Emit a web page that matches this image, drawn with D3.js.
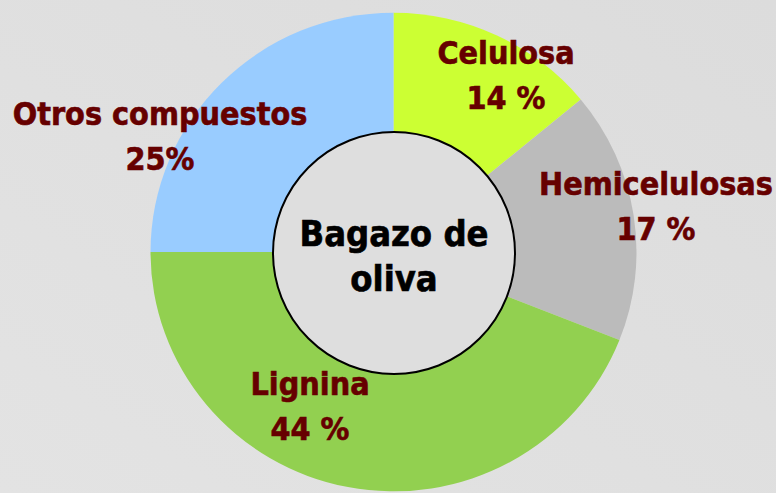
<!DOCTYPE html>
<html>
<head>
<meta charset="utf-8">
<style>
  html, body { margin: 0; padding: 0; overflow: hidden; }
  svg { display: block; }
  .lbl { font-family: "DejaVu Sans Condensed", "DejaVu Sans", sans-serif; font-stretch: condensed; font-weight: bold; }
</style>
</head>
<body>
<div id="chart"></div>
<script src="https://d3js.org/d3.v7.min.js"></script>
<script>
    const categories = ['Celulosa', 'Hemicelulosas', 'Lignina', 'Otros compuestos'];
    const values = [14, 17, 44, 25];
    const pctLabels = ['14 %', '17 %', '44 %', '25%'];
    const colors = ['#CCFF33', '#BBBBBB', '#92D050', '#99CCFF'];
    const centerTitle = ['Bagazo de', 'oliva'];

    const W = 776, H = 493;
    const cx = 394, cy = 252;

    const svg = d3.select('#chart')
        .append('svg')
        .attr('width', W)
        .attr('height', H);

    const defs = svg.append('defs');
    const grad = defs.append('linearGradient')
        .attr('id', 'bg')
        .attr('x1', '0%').attr('y1', '100%')
        .attr('x2', '100%').attr('y2', '0%');
    grad.append('stop').attr('offset', '0%').attr('stop-color', '#e3e3e3');
    grad.append('stop').attr('offset', '100%').attr('stop-color', '#dcdcdc');

    svg.append('rect')
        .attr('width', W)
        .attr('height', H)
        .attr('fill', 'url(#bg)');

    const data = categories.map((c, i) => ({ name: c, value: values[i], pct: pctLabels[i], color: colors[i] }));

    const pie = d3.pie()
        .value(d => d.value)
        .sort(null);

    const arc = d3.arc()
        .innerRadius(0)
        .outerRadius(243);

    const g = svg.append('g')
        .attr('transform', `translate(${cx - 0.5},${cy}) scale(1,0.985)`);

    g.selectAll('path')
        .data(pie(data))
        .enter()
        .append('path')
        .attr('d', arc)
        .attr('fill', d => d.data.color);

    // centre disc
    svg.append('circle')
        .attr('cx', cx)
        .attr('cy', cy + 1)
        .attr('r', 121)
        .attr('fill', '#dedede')
        .attr('stroke', '#000')
        .attr('stroke-width', 2);

    svg.selectAll('.title')
        .data(centerTitle)
        .enter()
        .append('text')
        .attr('class', 'lbl title')
        .attr('x', cx)
        .attr('y', (d, i) => 246 + i * 45)
        .attr('text-anchor', 'middle')
        .attr('font-size', 36)
        .attr('fill', '#000')
        .attr('stroke', '#000')
        .attr('stroke-width', 0.6)
        .text(d => d);

    // label anchors (centre x, first baseline), placed by hand like the original slide
    const labelAnchors = [[506, 64], [656, 195], [310, 395], [160, 125]];

    const lab = svg.selectAll('.slice-label')
        .data(data)
        .enter()
        .append('text')
        .attr('class', 'lbl slice-label')
        .attr('text-anchor', 'middle')
        .attr('font-size', 32)
        .attr('fill', '#660000')
        .attr('stroke', '#660000')
        .attr('stroke-width', 0.6);

    lab.append('tspan')
        .attr('x', (d, i) => labelAnchors[i][0])
        .attr('y', (d, i) => labelAnchors[i][1])
        .text(d => d.name);

    lab.append('tspan')
        .attr('x', (d, i) => labelAnchors[i][0])
        .attr('y', (d, i) => labelAnchors[i][1] + 45)
        .text(d => d.pct);
</script>
</body>
</html>
